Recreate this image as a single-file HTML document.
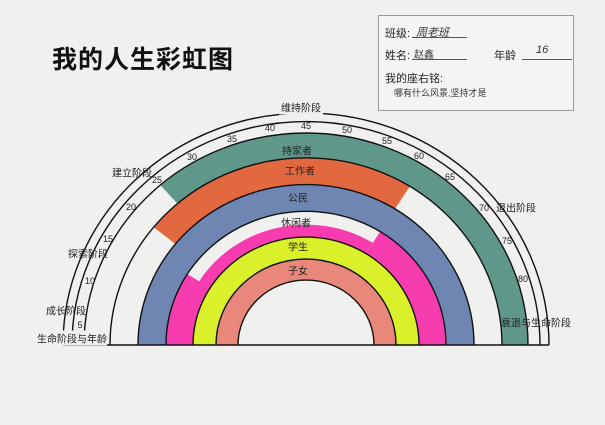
<!DOCTYPE html>
<html><head><meta charset="utf-8"><style>
body{margin:0;width:605px;height:425px;background:#f0f0ef;overflow:hidden;font-family:"Liberation Sans","Noto Sans CJK SC",sans-serif;position:relative}
.t{position:absolute;font-size:10px;color:#222;white-space:nowrap;transform:translate(-50%,-50%)}
.n{position:absolute;font-size:9px;color:#222;transform:translate(-50%,-50%)}
</style></head><body>
<div style="position:absolute;left:52px;top:40px;font-size:25px;font-weight:bold;color:#111;letter-spacing:1px">我的人生彩虹图</div>
<div style="position:absolute;left:378px;top:15px;width:194px;height:94px;border:1px solid #999;background:#f4f4f3"></div>
<div style="position:absolute;left:385px;top:25px;font-size:11px;color:#222">班级:</div>
<div style="position:absolute;left:412px;top:37px;width:55px;border-top:1px solid #555"></div>
<div style="position:absolute;left:416px;top:24px;font-size:11px;color:#333;font-style:italic">周老班</div>
<div style="position:absolute;left:385px;top:47px;font-size:11px;color:#222">姓名:</div>
<div style="position:absolute;left:412px;top:59px;width:55px;border-top:1px solid #555"></div>
<div style="position:absolute;left:414px;top:46px;font-size:10px;color:#333">赵鑫</div>
<div style="position:absolute;left:494px;top:47px;font-size:11px;color:#222">年龄</div>
<div style="position:absolute;left:522px;top:59px;width:50px;border-top:1px solid #555"></div>
<div style="position:absolute;left:536px;top:44px;font-size:11px;color:#333;font-style:italic">16</div>
<div style="position:absolute;left:385px;top:70px;font-size:11px;color:#222">我的座右铭:</div>
<div style="position:absolute;left:394px;top:86px;font-size:9px;color:#333">哪有什么风景,坚持才是</div>

<svg width="605" height="425" style="position:absolute;left:0;top:0">
<g transform="translate(306,345) scale(1,0.955)" stroke="#111" stroke-width="1.4" vector-effect="non-scaling-stroke">
<path d="M222,0 A222 222 0 0 0 -145.7,-167.6 L-128.6,-148 A196 196 0 0 1 196,0Z" fill="#5f988b" stroke="none"/>
<path d="M103.9,-166.2 A196 196 0 0 0 -152.3,-123.3 L-130.5,-105.7 A168 168 0 0 1 89,-142.5Z" fill="#e2693f" stroke="none"/>
<path d="M-168,0 A168 168 0 0 1 168,0 L140,0 A140 140 0 0 0 -140,0Z" fill="#6e86b1" stroke="none"/>
<path d="M140,0 A140 140 0 0 0 74.2,-118.7 L59.9,-95.8 A113 113 0 0 1 113,0Z" fill="#f73cb0" stroke="none"/>
<path d="M-140,0 A140 140 0 0 1 -118.7,-74.2 L-95.8,-59.9 A113 113 0 0 0 -113,0Z" fill="#f73cb0" stroke="none"/>
<path d="M66.8,-106.9 A126 126 0 0 0 -106.8,-66.8 L-95.8,-59.9 A113 113 0 0 1 59.9,-95.8Z" fill="#f73cb0" stroke="none"/>
<path d="M-113,0 A113 113 0 0 1 113,0 L90,0 A90 90 0 0 0 -90,0Z" fill="#d9f02a" stroke="none"/>
<path d="M-90,0 A90 90 0 0 1 90,0 L68,0 A68 68 0 0 0 -68,0Z" fill="#e9877b" stroke="none"/>
<g fill="none">
<path d="M-68,0 A68 68 0 0 1 68,0" vector-effect="non-scaling-stroke"/>
<path d="M-90,0 A90 90 0 0 1 90,0" vector-effect="non-scaling-stroke"/>
<path d="M-113,0 A113 113 0 0 1 113,0" vector-effect="non-scaling-stroke"/>
<path d="M-140,0 A140 140 0 0 1 140,0" vector-effect="non-scaling-stroke"/>
<path d="M-168,0 A168 168 0 0 1 168,0" vector-effect="non-scaling-stroke"/>
<path d="M-196,0 A196 196 0 0 1 196,0" vector-effect="non-scaling-stroke"/>
<path d="M-222,0 A222 222 0 0 1 222,0" vector-effect="non-scaling-stroke"/>
<path d="M-234,0 A234 234 0 0 1 234,0" vector-effect="non-scaling-stroke"/>
<path d="M-243,0 A243 243 0 0 1 243,0" vector-effect="non-scaling-stroke"/>
<path d="M-243,0 L243,0" vector-effect="non-scaling-stroke"/>
</g></g>
</svg>
<div class="t" style="left:301px;top:107px;background:#f0f0ef;padding:0 2px">维持阶段</div>
<div class="t" style="left:132px;top:172px">建立阶段</div>
<div class="t" style="left:88px;top:253px">探索阶段</div>
<div class="t" style="left:66px;top:310px">成长阶段</div>
<div class="t" style="left:72px;top:338px;background:#f0f0ef">生命阶段与年龄</div>
<div class="t" style="left:516px;top:207px">退出阶段</div>
<div class="t" style="left:536px;top:322px">衰退与生命阶段</div>
<div class="t" style="left:297px;top:150px">持家者</div>
<div class="t" style="left:300px;top:170px">工作者</div>
<div class="t" style="left:298px;top:197px">公民</div>
<div class="t" style="left:296px;top:222px">休闲者</div>
<div class="t" style="left:298px;top:246px">学生</div>
<div class="t" style="left:298px;top:270px">子女</div>
<div class="n" style="left:80px;top:325px">5</div>
<div class="n" style="left:90px;top:281px">10</div>
<div class="n" style="left:108px;top:239px">15</div>
<div class="n" style="left:131px;top:207px">20</div>
<div class="n" style="left:157px;top:180px">25</div>
<div class="n" style="left:192px;top:157px">30</div>
<div class="n" style="left:232px;top:139px">35</div>
<div class="n" style="left:270px;top:128px">40</div>
<div class="n" style="left:306px;top:126px">45</div>
<div class="n" style="left:347px;top:130px">50</div>
<div class="n" style="left:387px;top:141px">55</div>
<div class="n" style="left:419px;top:156px">60</div>
<div class="n" style="left:450px;top:177px">65</div>
<div class="n" style="left:484px;top:208px">70</div>
<div class="n" style="left:507px;top:241px">75</div>
<div class="n" style="left:523px;top:279px">80</div>
</body></html>
